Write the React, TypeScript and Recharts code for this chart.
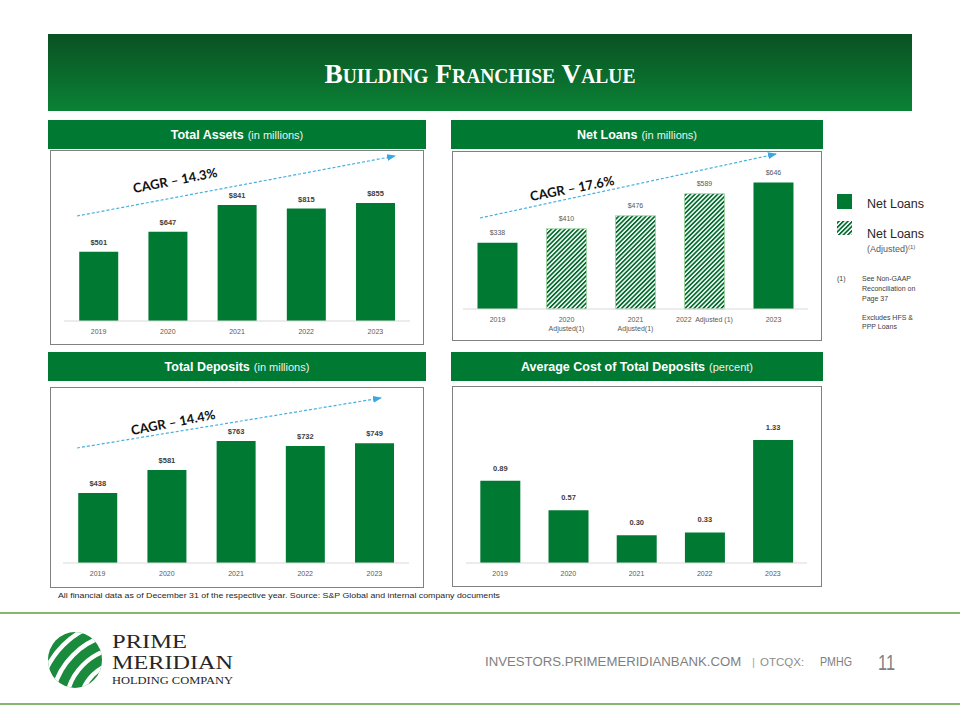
import React from 'react';
import { BarChart, Bar, XAxis, YAxis, LabelList, Cell } from 'recharts';

// chart values
const years = ['2019', '2020', '2021', '2022', '2023'];
const totalAssets = [501, 647, 841, 815, 855];
const netLoans = [338, 410, 476, 589, 646];
const netLoansAdjusted = [false, true, true, true, false];
const netLoanTickLines = [['2019'], ['2020', 'Adjusted(1)'], ['2021', 'Adjusted(1)'], ['2022  Adjusted (1)'], ['2023']];
const totalDeposits = [438, 581, 763, 732, 749];
const depositCost = [0.89, 0.57, 0.3, 0.33, 1.33];

const GREEN = '#007a33';
const SANS = '"Liberation Sans", Arial, sans-serif';
const SERIF = "'Liberation Serif', serif";

const assetsData = years.map((year, i) => ({ year, value: totalAssets[i] }));
const loansData = years.map((year, i) => ({ year, value: netLoans[i], adjusted: netLoansAdjusted[i] }));
const depositsData = years.map((year, i) => ({ year, value: totalDeposits[i] }));
const costData = years.map((year, i) => ({ year, value: depositCost[i] }));

const dollar = (v: any) => `$${v}`;

const LoanTick = (props: any) => {
  const { x, y, payload } = props;
  const lines = netLoanTickLines[years.indexOf(payload.value)] || [payload.value];
  return (
    <text x={x} y={y} textAnchor="middle" fill="#595959" fontSize={7} fontFamily={SANS} style={{ whiteSpace: 'pre' }}>
      {lines.map((l, i) => (
        <tspan key={i} x={x} dy={i === 0 ? '0.71em' : 9}>{l}</tspan>
      ))}
    </text>
  );
};

const Header = ({ left, top, width, title, sub }: any) => (
  <div style={{
    position: 'absolute', left, top, width, height: 29, background: GREEN, color: '#fff',
    display: 'flex', alignItems: 'center', justifyContent: 'center', fontFamily: SANS
  }}>
    <span style={{ fontSize: 12.5, fontWeight: 700 }}>{title}</span>
    <span style={{ fontSize: 11, marginLeft: 4, color: '#f0f0f0' }}>{sub}</span>
  </div>
);

const Box = ({ left, top, width, height }: any) => (
  <div style={{ position: 'absolute', left, top, width, height, border: '1px solid #808080', boxSizing: 'border-box' }} />
);

const axisProps = {
  dataKey: 'year',
  axisLine: { stroke: '#d9d9d9' },
  tickLine: false,
  interval: 0 as const,
  tick: { fill: '#595959', fontSize: 7, fontFamily: SANS }
};

const Arrow = ({ x1, y1, x2, y2 }: any) => (
  <line x1={x1} y1={y1} x2={x2} y2={y2} stroke="#45b0e0" strokeWidth={1.2} strokeDasharray="3 2" markerEnd="url(#cagrArrow)" />
);

const Cagr = ({ x, y, text }: any) => (
  <text transform={`translate(${x},${y}) rotate(-11)`} textAnchor="middle" dominantBaseline="central"
    fontFamily="Lato, 'Open Sans', sans-serif" fontWeight={700} fontSize={13} fill="#111">{text}</text>
);

export default function App() {
  return (
    <div style={{ position: 'absolute', left: 0, top: 0, width: 960, height: 720, background: '#fff', overflow: 'hidden' }}>
      <svg width={0} height={0} style={{ position: 'absolute' }}>
        <defs>
          <pattern id="hatch" patternUnits="userSpaceOnUse" width={3.2} height={3.2} patternTransform="rotate(45)">
            <rect x={0} y={0} width={3.2} height={3.2} fill="#fff" />
            <rect x={0} y={0} width={1.7} height={3.2} fill="#006b2c" />
          </pattern>
          <marker id="cagrArrow" markerUnits="userSpaceOnUse" markerWidth={9} markerHeight={7} refX={8} refY={3.5} orient="auto">
            <path d="M0,0 L9,3.5 L0,7 z" fill="#3aa8e0" />
          </marker>
          <clipPath id="logoClip">
            <ellipse cx={75} cy={660} rx={27} ry={28} />
          </clipPath>
        </defs>
      </svg>

      {/* title bar */}
      <div style={{ position: 'absolute', left: 48, top: 34, width: 864, height: 77, background: 'linear-gradient(#0a5122, #0a8236)' }} />

      <Header left={48} top={120} width={378} title="Total Assets" sub="(in millions)" />
      <Header left={451} top={120} width={372} title="Net Loans" sub="(in millions)" />
      <Header left={48} top={352} width={378} title="Total Deposits" sub="(in millions)" />
      <Header left={451} top={352} width={372} title="Average Cost of Total Deposits" sub="(percent)" />

      <Box left={50} top={150} width={374} height={195} />
      <Box left={452} top={151} width={370} height={190} />
      <Box left={50} top={387} width={374} height={201} />
      <Box left={452} top={386} width={370} height={201} />

      {/* Total Assets */}
      <div style={{ position: 'absolute', left: 50, top: 150 }}>
        <BarChart width={373} height={195} data={assetsData} margin={{ top: 33, right: 13, left: 14, bottom: 0 }} barCategoryGap="22%">
          <XAxis {...axisProps} height={24} />
          <YAxis hide domain={[0, 1000]} />
          <Bar dataKey="value" fill={GREEN} isAnimationActive={false}>
            <LabelList dataKey="value" position="top" offset={7} formatter={dollar} fill="#404040" fontSize={7.5} fontWeight={700} fontFamily={SANS} />
          </Bar>
        </BarChart>
      </div>

      {/* Net Loans */}
      <div style={{ position: 'absolute', left: 452, top: 151 }}>
        <BarChart width={369} height={189} data={loansData} margin={{ top: 21, right: 13, left: 11, bottom: 0 }} barCategoryGap="21%">
          <XAxis {...axisProps} height={31} tick={<LoanTick />} />
          <YAxis hide domain={[0, 700]} />
          <Bar dataKey="value" fill={GREEN} isAnimationActive={false}>
            {loansData.map((d, i) => (
              <Cell key={i} fill={d.adjusted ? 'url(#hatch)' : GREEN} stroke={d.adjusted ? '#9ad39a' : 'none'} strokeWidth={0.8} />
            ))}
            <LabelList dataKey="value" position="top" offset={8} formatter={dollar} fill="#595959" fontSize={7} fontFamily={SANS} />
          </Bar>
        </BarChart>
      </div>

      {/* Total Deposits */}
      <div style={{ position: 'absolute', left: 50, top: 387 }}>
        <BarChart width={373} height={200} data={depositsData} margin={{ top: 32, right: 14, left: 13, bottom: 0 }} barCategoryGap="22%">
          <XAxis {...axisProps} height={24} />
          <YAxis hide domain={[0, 900]} />
          <Bar dataKey="value" fill={GREEN} isAnimationActive={false}>
            <LabelList dataKey="value" position="top" offset={7} formatter={dollar} fill="#404040" fontSize={7.5} fontWeight={700} fontFamily={SANS} />
          </Bar>
        </BarChart>
      </div>

      {/* Average Cost of Total Deposits */}
      <div style={{ position: 'absolute', left: 452, top: 386 }}>
        <BarChart width={369} height={200} data={costData} margin={{ top: 29, right: 14, left: 14, bottom: 0 }} barCategoryGap="21%">
          <XAxis {...axisProps} height={23} />
          <YAxis hide domain={[0, 1.6]} />
          <Bar dataKey="value" fill={GREEN} isAnimationActive={false}>
            <LabelList dataKey="value" position="top" offset={10} formatter={(v: any) => Number(v).toFixed(2)} fill="#404040" fontSize={7.5} fontWeight={700} fontFamily={SANS} />
          </Bar>
        </BarChart>
      </div>

      {/* annotations, legend, title and footer */}
      <svg width={960} height={720} style={{ position: 'absolute', left: 0, top: 0, pointerEvents: 'none' }}>
        <text x={480} y={83} textAnchor="middle" fill="#fff" fontFamily={SERIF} fontSize={28} fontWeight={700}
          textLength={311} lengthAdjust="spacingAndGlyphs" style={{ fontVariant: 'small-caps' }}>Building Franchise Value</text>

        <Arrow x1={77} y1={216} x2={395} y2={156} />
        <Cagr x={175} y={180} text="CAGR – 14.3%" />
        <Arrow x1={480} y1={218} x2={776} y2={154} />
        <Cagr x={572} y={188} text="CAGR – 17.6%" />
        <Arrow x1={77} y1={448} x2={381} y2={398} />
        <Cagr x={173} y={422} text="CAGR – 14.4%" />

        {/* legend */}
        <rect x={837} y={194} width={15} height={15} fill={GREEN} />
        <text x={867} y={208} fontFamily={SANS} fontSize={12.5} fill="#262626">Net Loans</text>
        <rect x={837} y={221} width={15} height={14} fill="url(#hatch)" />
        <text x={867} y={238} fontFamily={SANS} fontSize={12.5} fill="#262626">Net Loans</text>
        <text x={867} y={252} fontFamily={SANS} fontSize={9} fill="#595959">(Adjusted)<tspan fontSize={6} dy={-3}>(1)</tspan></text>
        <g fontFamily={SANS} fontSize={7} fill="#404040">
          <text x={837} y={281}>(1)</text>
          <text x={862} y={281}>See Non-GAAP</text>
          <text x={862} y={291}>Reconciliation on</text>
          <text x={862} y={301}>Page 37</text>
          <text x={862} y={320}>Excludes HFS &amp;</text>
          <text x={862} y={329}>PPP Loans</text>
        </g>

        <text x={58} y={598} fontFamily={SANS} fontSize={8} fill="#262626" textLength={442} lengthAdjust="spacingAndGlyphs">
          All financial data as of December 31 of the respective year. Source: S&amp;P Global and internal company documents
        </text>

        {/* footer */}
        <line x1={0} y1={613} x2={960} y2={613} stroke="#5e9c3e" strokeWidth={1.5} />
        <line x1={0} y1={704} x2={960} y2={704} stroke="#5e9c3e" strokeWidth={1.5} />
        <g clipPath="url(#logoClip)">
          <rect x={44} y={628} width={62} height={64} fill="#1a8a3c" />
          {[44, 58, 72, 86].map((r) => (
            <circle key={r} cx={124} cy={706} r={r} fill="none" stroke="#fff" strokeWidth={4.5} />
          ))}
        </g>
        <text x={112} y={648} fontFamily={SERIF} fontSize={19} fill="#262626" textLength={75}
          lengthAdjust="spacingAndGlyphs">PRIME</text>
        <text x={112} y={669} fontFamily={SERIF} fontSize={19} fill="#262626" textLength={121}
          lengthAdjust="spacingAndGlyphs">MERIDIAN</text>
        <text x={112} y={684} fontFamily={SERIF} fontSize={11} fill="#262626" textLength={121}
          lengthAdjust="spacingAndGlyphs">HOLDING COMPANY</text>

        <text x={485} y={666} fontFamily={SANS} fontSize={13.2} fill="#7f7f7f">INVESTORS.PRIMEMERIDIANBANK.COM</text>
        <text x={752} y={666} fontFamily={SANS} fontSize={11.5} fill="#8c8c8c">
          <tspan fill="#a6a6a6">|</tspan>
          <tspan dx={5}>OTCQX:</tspan>
        </text>
        <text x={820} y={666} fontFamily={SANS} fontSize={13} fill="#7f7f7f" textLength={32} lengthAdjust="spacingAndGlyphs">PMHG</text>
        <text x={878} y={670} fontFamily={SANS} fontSize={22} fill="#7f7f7f" textLength={17} lengthAdjust="spacingAndGlyphs">11</text>
      </svg>
    </div>
  );
}
